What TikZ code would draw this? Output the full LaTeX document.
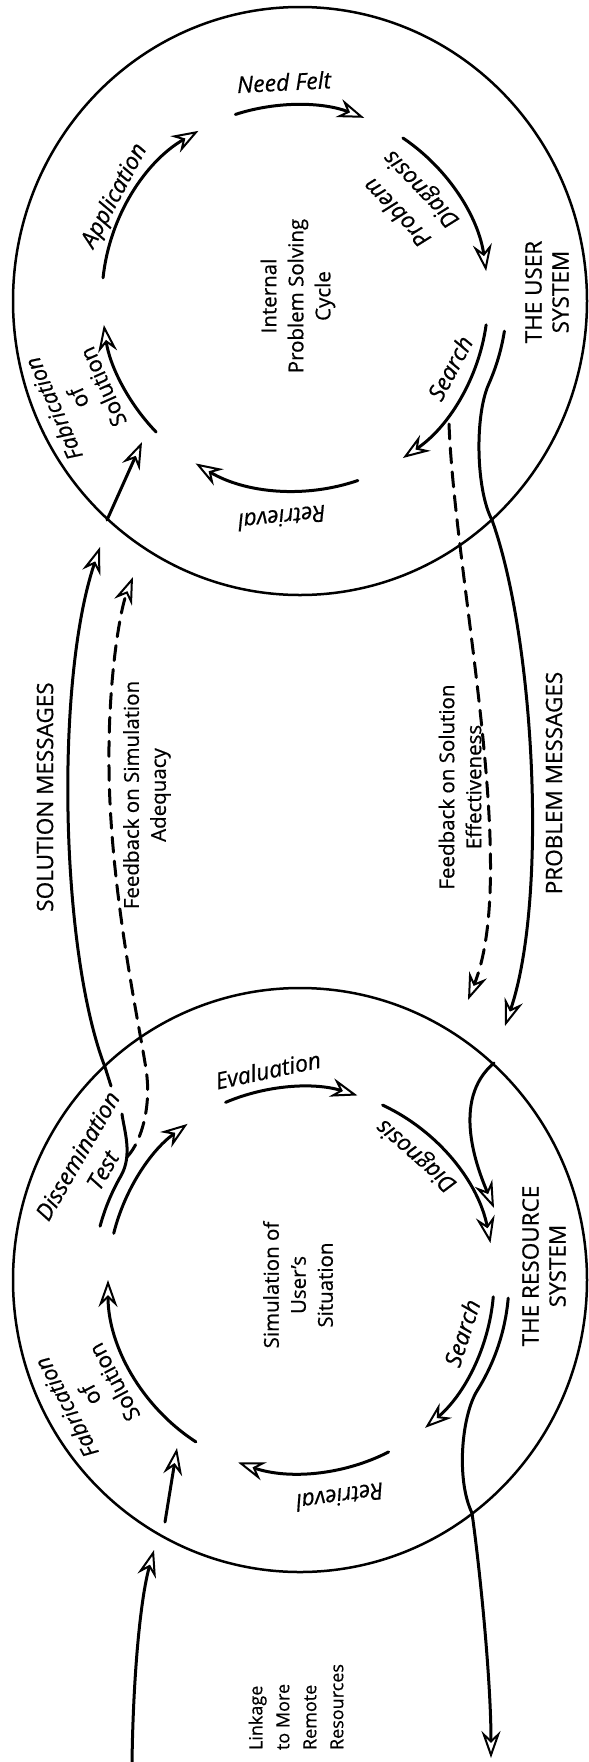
\documentclass[tikz,border=0pt]{standalone}
\usepackage{fontspec}
\setmainfont{Open Sans}[FakeBold=0.6]
\usetikzlibrary{arrows.meta}
\begin{document}
\begin{tikzpicture}[x=1pt,y=-1pt,
  line cap=round, line join=round,
  rim/.style={line width=2.5pt},
  flow/.style={line width=3pt,
    -{Stealth[open, length=27pt, width=19pt, inset=9pt, line width=2pt]}},
  fb/.style={flow, dash pattern=on 15pt off 9pt},
  lab/.style={font=\fontsize{23}{29}\selectfont\itshape, inner sep=0pt, align=center},
  blk/.style={font=\fontsize{22}{27}\selectfont, inner sep=0pt, align=center},
  capslab/.style={font=\fontsize{22.5}{27}\selectfont, inner sep=0pt, align=center, rotate=90},
  midlab/.style={font=\fontsize{20.5}{27}\selectfont, inner sep=0pt, align=center, rotate=90},
  lnklab/.style={font=\fontsize{18}{27}\selectfont, inner sep=0pt, align=left, rotate=90},
]
\fill[white] (0,0) rectangle (589,1762);
\useasboundingbox (0,0) rectangle (589,1762);

% centres of the two systems and of their inner cycles
\coordinate (U)  at (300,301);
\coordinate (UI) at (295,298);
\coordinate (R)  at (300,1280);
\coordinate (RI) at (301,1280);

% system boundaries
\draw[rim] (U) ellipse [x radius=287, y radius=294];
\draw[rim] (R) ellipse [x radius=287, y radius=292];

% ---- user system: internal problem solving cycle
\draw[flow] (UI) ++(-108:193) arc[start angle=-108, end angle=-69, radius=193];
\draw[flow] (UI) ++(-56:193)  arc[start angle=-56,  end angle=-8,  radius=193];
\draw[flow] (UI) ++(8:193)    arc[start angle=8,    end angle=56,  radius=193];
\draw[flow] (UI) ++(71:193)   arc[start angle=71,   end angle=121, radius=193];
\draw[flow] (UI) ++(136:193)  arc[start angle=136,  end angle=172, radius=193];
\draw[flow] (UI) ++(186:193)  arc[start angle=186,  end angle=240, radius=193];

% ---- resource system: simulation cycle
\draw[flow] (RI) ++(-113:193) arc[start angle=-113, end angle=-73, radius=193];
\draw[flow] (RI) ++(-65:193)  arc[start angle=-65,  end angle=-11, radius=193];
\draw[flow] (RI) ++(5:193)    arc[start angle=5,    end angle=50,  radius=193];
\draw[flow] (RI) ++(63:193)   arc[start angle=63,   end angle=109, radius=193];
\draw[flow] (RI) ++(123:193)  arc[start angle=123,  end angle=180, radius=193];
\draw[flow] (RI) ++(194:193)  arc[start angle=194,  end angle=234, radius=193];

% ---- end points of the linking paths
\coordinate (upx) at (492,520);   % problem path leaves the user system
\coordinate (upt) at (505,1026);
\coordinate (rpx) at (494,1063);  % problem enters the resource system
\coordinate (rpt) at (494,1208);
\coordinate (fe1) at (449,424);   % feedback on solution effectiveness
\coordinate (fe2) at (468,1000);
\coordinate (rdx) at (105,1067);  % dissemination leaves the resource system
\coordinate (smt) at (100,547);
\coordinate (ufa) at (107,520);   % fabrication inside the user system
\coordinate (ufb) at (142,442);
\coordinate (sf0) at (127,1157);  % feedback on simulation adequacy
\coordinate (sft) at (133,577);
\coordinate (rlx) at (472,1513);  % linkage out of the resource system
\coordinate (rlt) at (491,1758);
\coordinate (li0) at (132,1764);  % linkage into the resource system
\coordinate (lit) at (154,1550);
\coordinate (rfa) at (165,1522);
\coordinate (rfb) at (177,1448);

% problem messages
\draw[flow] (UI) ++(9:212) arc[start angle=9, end angle=24, radius=212]
  .. controls (474.5,416) and (476,490) .. (upx)
  .. controls (535,640) and (548,900) .. (upt);
\draw[flow] (rpx) .. controls (450,1100) and (478,1170) .. (rpt);

% feedback on solution effectiveness
\draw[fb] (fe1) .. controls (455,580) and (520,870) .. (fe2);

% solution messages
\draw[flow] (RI) ++(195:208) arc[start angle=195, end angle=210, radius=208]
  .. controls (133,1155) and (124,1130) .. (122,1114)
  (111,1086) -- (rdx) .. controls (60,950) and (55,680) .. (smt);
\draw[flow] (ufa) -- (ufb);

% feedback on simulation adequacy
\draw[fb] (sf0) .. controls (143,1140) and (150,1105) .. (147,1077)
  .. controls (144,1045) and (110,900) .. (109,767)
  .. controls (108,680) and (120,610) .. (sft);

% linkage to more remote resources
\draw[flow] (RI) ++(5:208) arc[start angle=5, end angle=32, radius=208]
  .. controls (461.4,1415.6) and (456,1480) .. (rlx)
  .. controls (480,1570) and (491,1680) .. (rlt);
\draw[flow] (li0) .. controls (133,1680) and (140,1600) .. (lit);
\draw[flow] (rfa) -- (rfb);

% ---- labels, user system
\node[lab, rotate=3]   (tneed)  at (284,82)  {Need Felt};
\node[lab, rotate=134, font=\fontsize{23}{33}\selectfont\itshape]
                       (tpdiag) at (410,200) {Problem\\Diagnosis};
\node[lab, rotate=62]  (tusea)  at (450,368) {Search};
\node[lab, rotate=186] (turet)  at (282,518) {Retrieval};
\node[lab, rotate=62]  (tuapp)  at (115,196) {Application};
\node[blk, rotate=114] (tufab)  at (78,398)  {{\itshape Fabrication}\\of\\Solution};
\node[midlab] (tint) at (298,296) {Internal\\Problem Solving\\Cycle};
\node[capslab] (tusr) at (547,292) {THE USER\\SYSTEM};

% ---- labels between the systems
\node[capslab] (tsol)  at (45,797)  {SOLUTION MESSAGES};
\node[midlab] (tfsa)  at (147,795) {Feedback on Simulation\\Adequacy};
\node[midlab] (tfse)  at (460,787) {Feedback on Solution\\Effectiveness};
\node[capslab] (tprob) at (554,783) {PROBLEM MESSAGES};

% ---- labels, resource system
\node[lab, rotate=12]  (teval)  at (268,1070) {Evaluation};
\node[lab, rotate=139] (trdiag) at (417,1155) {Diagnosis};
\node[lab, rotate=72]  (trsea)  at (462,1333) {Search};
\node[lab, rotate=188] (trret)  at (340,1497) {Retrieval};
\node[blk, rotate=118] (trfab)  at (90,1395)  {{\itshape Fabrication}\\of\\Solution};
\node[lab, rotate=60]  (tdiss)  at (90,1163)  {Dissemination\\Test};
\node[midlab] (tsim) at (298,1285) {Simulation of\\User's\\Situation};
\node[capslab] (tres) at (544,1266) {THE RESOURCE\\SYSTEM};
\node[lnklab] (tlink) at (296,1707) {Linkage\\to More\\Remote\\Resources};
\end{tikzpicture}
\end{document}
